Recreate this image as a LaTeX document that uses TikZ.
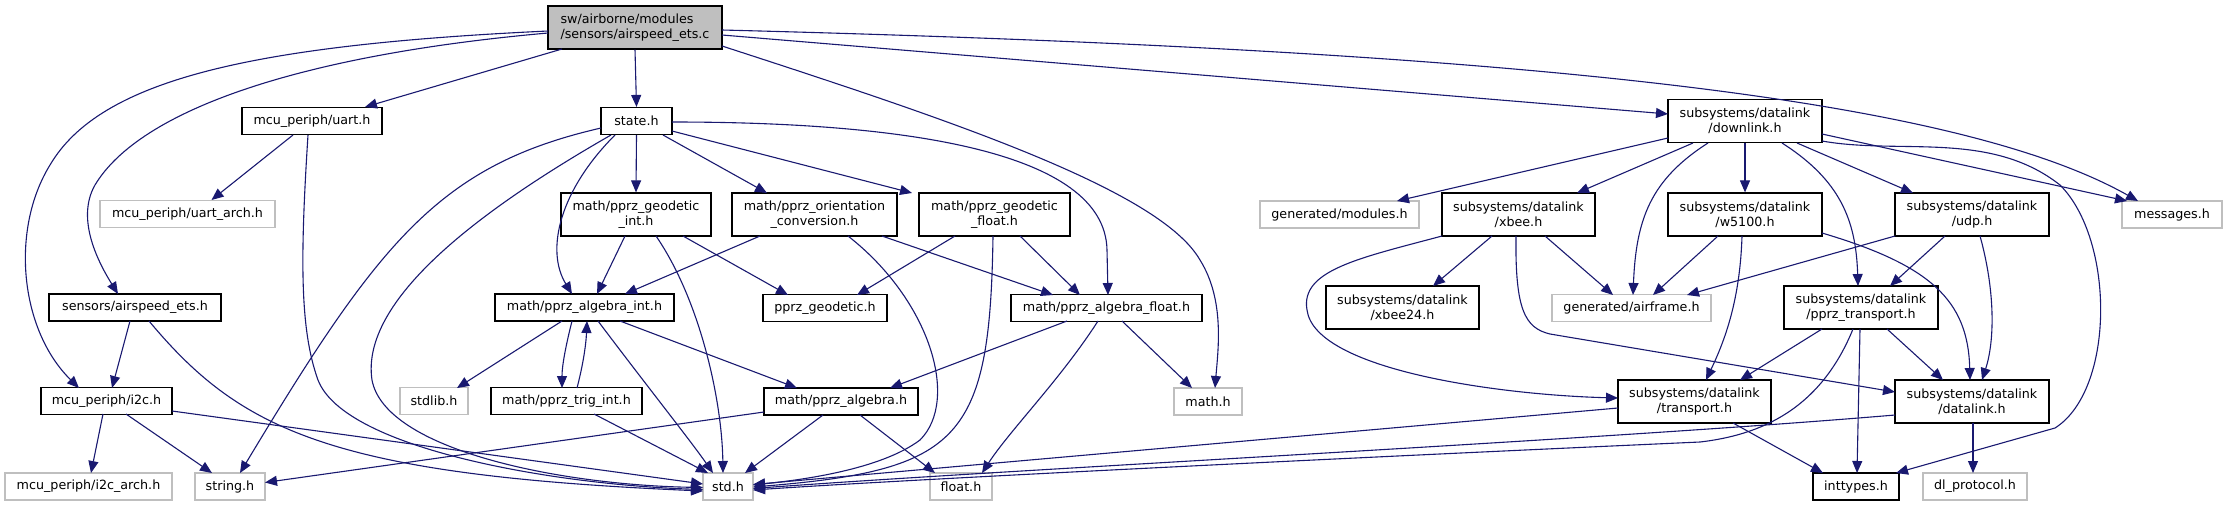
\documentclass[tikz,border=0pt]{standalone}
\usepackage{fontspec}
\setmainfont{DejaVu Sans}
\usetikzlibrary{arrows.meta,calc}
\definecolor{navyc}{RGB}{25,25,112}
\definecolor{gborder}{RGB}{191,191,191}
\definecolor{mainfill}{RGB}{191,191,191}
\tikzset{
  box/.style={draw=black, line width=1.2pt, inner sep=0pt, align=center, fill=white,
    font=\fontsize{12.7}{15}\selectfont},
  gbox/.style={box, draw=gborder},
  one/.style={minimum height=27pt},
  two/.style={minimum height=43pt},
  edgeline/.style={draw=navyc, line width=1.1pt, -{Triangle[length=12pt,width=10pt]}, fill=none}
}
\begin{document}
\begin{tikzpicture}[x=1pt,y=-1pt]
\useasboundingbox (0,0) rectangle (2227,507);
% row 0
\node[box, two, minimum width=174pt, fill=mainfill, align=left] (main) at (635,27.5) {sw/airborne/modules\\/sensors/airspeed\_ets.c};
% row 1
\node[box, one, minimum width=140pt] (uart) at (312,121) {mcu\_periph/uart.h};
\node[box, one, minimum width=71pt] (state) at (636.5,121) {state.h};
\node[box, two, minimum width=154pt] (downlink) at (1745,121) {subsystems/datalink\\/downlink.h};
% row 2
\node[gbox, one, minimum width=175pt] (uartarch) at (187.5,214) {mcu\_periph/uart\_arch.h};
\node[box, two, minimum width=150pt] (geodint) at (636,214.5) {math/pprz\_geodetic\\\_int.h};
\node[box, two, minimum width=165pt] (orient) at (814.5,214.5) {math/pprz\_orientation\\\_conversion.h};
\node[box, two, minimum width=151pt] (geodfloat) at (994.5,214.5) {math/pprz\_geodetic\\\_float.h};
\node[gbox, one, minimum width=159pt] (modules) at (1339.5,214.5) {generated/modules.h};
\node[box, two, minimum width=153pt] (xbee) at (1518.5,214.5) {subsystems/datalink\\/xbee.h};
\node[box, two, minimum width=154pt] (w5100) at (1745,214.5) {subsystems/datalink\\/w5100.h};
\node[box, two, minimum width=154pt] (udp) at (1972,214.5) {subsystems/datalink\\/udp.h};
\node[gbox, one, minimum width=100pt] (messages) at (2172,214.5) {messages.h};
% row 3
\node[box, one, minimum width=172pt] (airspeedh) at (135,307.5) {sensors/airspeed\_ets.h};
\node[box, one, minimum width=179pt] (algint) at (584.5,307.5) {math/pprz\_algebra\_int.h};
\node[box, one, minimum width=124pt] (geodetic) at (825,308) {pprz\_geodetic.h};
\node[box, one, minimum width=191pt] (algfloat) at (1106.5,308) {math/pprz\_algebra\_float.h};
\node[box, two, minimum width=153pt] (xbee24) at (1402.5,307.5) {subsystems/datalink\\/xbee24.h};
\node[gbox, one, minimum width=159pt] (airframe) at (1631.5,308) {generated/airframe.h};
\node[box, two, minimum width=154pt] (pprztrans) at (1861,307.5) {subsystems/datalink\\/pprz\_transport.h};
% row 4
\node[box, one, minimum width=131pt] (i2c) at (106.5,401) {mcu\_periph/i2c.h};
\node[gbox, one, minimum width=68pt] (stdlib) at (434,401) {stdlib.h};
\node[box, one, minimum width=151pt] (trig) at (566.5,401) {math/pprz\_trig\_int.h};
\node[box, one, minimum width=154pt] (palg) at (841,401.5) {math/pprz\_algebra.h};
\node[gbox, one, minimum width=68pt] (mathh) at (1208,401.5) {math.h};
\node[box, two, minimum width=153pt] (transport) at (1694.5,401.5) {subsystems/datalink\\/transport.h};
\node[box, two, minimum width=154pt] (datalink) at (1972,401.5) {subsystems/datalink\\/datalink.h};
% row 5
\node[gbox, one, minimum width=167pt] (i2carch) at (88.5,486.5) {mcu\_periph/i2c\_arch.h};
\node[gbox, one, minimum width=70pt] (stringh) at (230,486.5) {string.h};
\node[gbox, one, minimum width=50pt] (stdh) at (728,486.5) {std.h};
\node[gbox, one, minimum width=62pt] (floath) at (961,486.5) {float.h};
\node[box, one, minimum width=86pt] (inttypes) at (1856,486.5) {inttypes.h};
\node[gbox, one, minimum width=104pt] (dlproto) at (1975,486.5) {dl\_protocol.h};

% edges from main
\draw[edgeline] ($(main)+(-73,21.5)$) -- ($(uart)+(53,-14)$);
\draw[edgeline] (main.south) -- (state.north);
\draw[edgeline] ($(main)+(87,7.5)$) -- ($(downlink)+(-77,-7)$);
\draw[edgeline] ($(main)+(87,2.5)$) .. controls (1500,50) and (1950,95) .. ($(messages)+(-34,-13.5)$);
\draw[edgeline] ($(main)+(-87,5.5)$) .. controls (300,55) and (140,110) .. (95,185) .. controls (75,220) and (100,265) .. ($(airspeedh)+(-17,-13.5)$);
\draw[edgeline] ($(main)+(-87,3.5)$) .. controls (250,45) and (100,80) .. (50,165) .. controls (10,230) and (20,330) .. ($(i2c)+(-27.5,-13)$);
\draw[edgeline] ($(main)+(87,18.5)$) .. controls (950,120) and (1160,190) .. (1200,260) .. controls (1225,300) and (1218,350) .. ($(mathh)+(7,-13.5)$);
% uart
\draw[edgeline] ($(uart)+(-19,14)$) -- ($(uartarch)+(24,-14)$);
\draw[edgeline] ($(uart)+(-4,14)$) .. controls (300,260) and (300,330) .. (318,380) .. controls (345,450) and (560,485) .. ($(stdh)+(-25,3)$);
% state
\draw[edgeline] (state.south) -- (geodint.north);
\draw[edgeline] ($(state)+(26.5,14)$) -- ($(orient)+(-47.5,-21.5)$);
\draw[edgeline] ($(state)+(35.5,10)$) -- ($(geodfloat)+(-82.5,-21.5)$);
\draw[edgeline] ($(state)+(-21.5,14)$) .. controls (560,190) and (545,250) .. ($(algint)+(-12.5,-13.5)$);
\draw[edgeline] ($(state)+(35.5,1)$) .. controls (900,122) and (1105,150) .. (1107,250) -- ($(algfloat)+(1.5,-13)$);
\draw[edgeline] ($(state)+(-25.5,14)$) .. controls (480,210) and (360,300) .. (372,380) .. controls (385,450) and (560,485) .. ($(stdh)+(-25,1)$);
\draw[edgeline] ($(state)+(-35.5,7)$) .. controls (440,165) and (380,240) .. ($(stringh)+(10,-13.5)$);
% geodetic int
\draw[edgeline] ($(geodint)+(47,21.5)$) -- ($(geodetic)+(-37,-13)$);
\draw[edgeline] ($(geodint)+(-11,21.5)$) -- ($(algint)+(12.5,-13.5)$);
\draw[edgeline] ($(geodint)+(20,21.5)$) .. controls (700,300) and (722,400) .. ($(stdh)+(-5,-13.5)$);
% orientation
\draw[edgeline] ($(orient)+(-54.5,21.5)$) -- ($(algint)+(40.5,-13.5)$);
\draw[edgeline] ($(orient)+(67.5,21.5)$) -- ($(algfloat)+(-53.5,-13)$);
\draw[edgeline] ($(orient)+(33.5,21.5)$) .. controls (930,300) and (960,400) .. (920,440) .. controls (880,470) and (800,480) .. ($(stdh)+(25,-1.5)$);
% geodetic float
\draw[edgeline] ($(geodfloat)+(-39.5,21.5)$) -- ($(geodetic)+(32,-13)$);
\draw[edgeline] ($(geodfloat)+(25.5,21.5)$) -- ($(algfloat)+(-26.5,-13)$);
\draw[edgeline] ($(geodfloat)+(-1.5,21.5)$) .. controls (990,440) and (960,470) .. ($(stdh)+(25,0.5)$);
% algebra int
\draw[edgeline] ($(algint)+(13.5,13.5)$) .. controls (650,390) and (690,440) .. ($(stdh)+(-15,-13.5)$);
\draw[edgeline] ($(algint)+(35.5,13.5)$) -- ($(palg)+(-44,-13.5)$);
\draw[edgeline] ($(algint)+(-22.5,13.5)$) -- ($(stdlib)+(23,-13)$);
\draw[edgeline] ($(algint)+(-12.5,13.5)$) .. controls (566,345) and (562,365) .. ($(trig)+(-4.5,-13)$);
\draw[edgeline] ($(trig)+(10.5,-13)$) .. controls (583,365) and (586,345) .. ($(algint)+(2.5,13.5)$);
\draw[edgeline] ($(trig)+(27.5,13)$) -- ($(stdh)+(-20,-13.5)$);
% algebra float
\draw[edgeline] ($(algfloat)+(-39.5,13)$) -- ($(palg)+(49,-13.5)$);
\draw[edgeline] ($(algfloat)+(15.5,13)$) -- ($(mathh)+(-16,-13.5)$);
\draw[edgeline] ($(algfloat)+(-8.5,13)$) .. controls (1060,380) and (1010,430) .. ($(floath)+(21,-13.5)$);
% pprz algebra
\draw[edgeline] ($(palg)+(-18,13.5)$) -- ($(stdh)+(17,-13.5)$);
\draw[edgeline] ($(palg)+(19,13.5)$) -- ($(floath)+(-26,-13.5)$);
\draw[edgeline] ($(palg)+(-77,10.5)$) -- ($(stringh)+(35,-4)$);
% airspeed_ets.h and i2c
\draw[edgeline] ($(airspeedh)+(-5,13.5)$) -- ($(i2c)+(5.5,-13)$);
\draw[edgeline] ($(airspeedh)+(14,13.5)$) .. controls (240,430) and (330,475) .. ($(stdh)+(-25,4.5)$);
\draw[edgeline] ($(i2c)+(-3.5,13)$) -- ($(i2carch)+(2.5,-13.5)$);
\draw[edgeline] ($(i2c)+(19.5,13)$) -- ($(stringh)+(-18,-13.5)$);
\draw[edgeline] ($(i2c)+(65.5,10)$) -- ($(stdh)+(-25,-2.5)$);
% downlink
\draw[edgeline] ($(downlink)+(-77,17)$) -- ($(modules)+(57.5,-13.5)$);
\draw[edgeline] ($(downlink)+(-52,22)$) -- ($(xbee)+(58.5,-21.5)$);
\draw[edgeline] (downlink.south) -- (w5100.north);
\draw[edgeline] ($(downlink)+(52,22)$) -- ($(udp)+(-59,-21.5)$);
\draw[edgeline] ($(downlink)+(77,13)$) -- ($(messages)+(-45,-13.5)$);
\draw[edgeline] ($(downlink)+(-37,22)$) .. controls (1650,180) and (1636,220) .. ($(airframe)+(1.5,-13)$);
\draw[edgeline] ($(downlink)+(37,22)$) .. controls (1840,180) and (1856,220) .. ($(pprztrans)+(-3,-21.5)$);
\draw[edgeline] ($(downlink)+(77,20)$) .. controls (1900,155) and (1990,130) .. (2060,185) .. controls (2115,240) and (2115,390) .. (2055,428) -- ($(inttypes)+(40,-13.5)$);
% xbee
\draw[edgeline] ($(xbee)+(-26.5,21.5)$) -- ($(xbee24)+(30.5,-21.5)$);
\draw[edgeline] ($(xbee)+(26.5,21.5)$) -- ($(airframe)+(-18.5,-13)$);
\draw[edgeline] ($(xbee)+(-76.5,21.5)$) .. controls (1360,258) and (1300,270) .. (1307,310) .. controls (1315,370) and (1500,395) .. ($(transport)+(-76.5,-3.5)$);
\draw[edgeline] ($(xbee)+(-2.5,21.5)$) .. controls (1515,310) and (1525,328) .. (1550,334) -- ($(datalink)+(-77,-9.5)$);
% w5100
\draw[edgeline] ($(w5100)+(-27,21.5)$) -- ($(airframe)+(21.5,-13)$);
\draw[edgeline] ($(w5100)+(-3,21.5)$) .. controls (1740,300) and (1725,340) .. ($(transport)+(11.5,-21.5)$);
\draw[edgeline] ($(w5100)+(77,18.5)$) .. controls (1930,265) and (1968,300) .. ($(datalink)+(-2,-21.5)$);
% udp
\draw[edgeline] ($(udp)+(-77,21.5)$) -- ($(airframe)+(55.5,-13)$);
\draw[edgeline] ($(udp)+(-27,21.5)$) -- ($(pprztrans)+(29,-21.5)$);
\draw[edgeline] ($(udp)+(8,21.5)$) .. controls (1995,290) and (1995,340) .. ($(datalink)+(10,-21.5)$);
% pprz_transport
\draw[edgeline] ($(pprztrans)+(-39,21.5)$) -- ($(transport)+(45.5,-21.5)$);
\draw[edgeline] ($(pprztrans)+(26,21.5)$) -- ($(datalink)+(-29,-21.5)$);
\draw[edgeline] ($(pprztrans)+(-1,21.5)$) -- ($(inttypes)+(1,-13.5)$);
\draw[edgeline] ($(pprztrans)+(-8,21.5)$) .. controls (1820,410) and (1760,435) .. (1700,442) .. controls (1300,460) and (900,480) .. ($(stdh)+(25,3.5)$);
% transport
\draw[edgeline] ($(transport)+(38.5,21.5)$) -- ($(inttypes)+(-33,-13.5)$);
\draw[edgeline] ($(transport)+(-76.5,6.5)$) -- ($(stdh)+(25,-2)$);
% datalink
\draw[edgeline] ($(datalink)+(-77,13.5)$) .. controls (1600,440) and (1000,470) .. ($(stdh)+(25,2)$);
\draw[edgeline] ($(datalink)+(1,21.5)$) -- ($(dlproto)+(-2,-13.5)$);
\end{tikzpicture}
\end{document}
